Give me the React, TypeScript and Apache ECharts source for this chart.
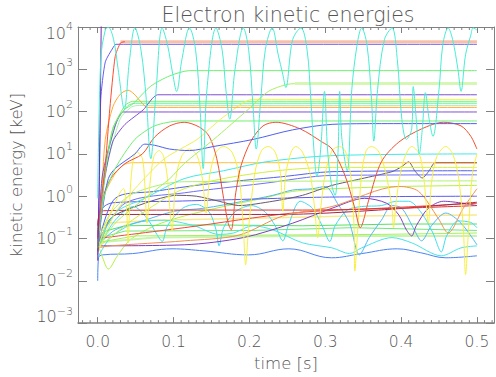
import { useEffect, useRef } from "react";
import * as echarts from "echarts";

// ---------- tick values ----------
const xMajorTicks = [0, 0.1, 0.2, 0.3, 0.4, 0.5];
const xMinorTicks = [
  -0.02, -0.01, 0.01, 0.02, 0.03, 0.04, 0.05, 0.06, 0.07, 0.08, 0.09,
  0.11, 0.12, 0.13, 0.14, 0.15, 0.16, 0.17, 0.18, 0.19,
  0.21, 0.22, 0.23, 0.24, 0.25, 0.26, 0.27, 0.28, 0.29,
  0.31, 0.32, 0.33, 0.34, 0.35, 0.36, 0.37, 0.38, 0.39,
  0.41, 0.42, 0.43, 0.44, 0.45, 0.46, 0.47, 0.48, 0.49, 0.51, 0.52,
];

// ---------- series data: [time s, energy keV] ----------
const cyanBand = [[0,0.89],[0.004,1700],[0.010,8500],[0.014,9800],[0.021,5000],[0.027,980],[0.035,115],[0.042,1700],[0.049,9500],[0.057,2900],[0.064,195],[0.070,7.7],[0.077,330],[0.085,9500],[0.092,3800],[0.099,760],[0.104,300],[0.111,1700],[0.121,9500],[0.129,2900],[0.135,115],[0.139,4.5],[0.144,330],[0.156,9500],[0.164,2900],[0.169,330],[0.174,66],[0.181,980],[0.192,9500],[0.199,2900],[0.205,115],[0.209,13],[0.215,195],[0.221,2900],[0.230,9500],[0.238,2200],[0.244,760],[0.248,370],[0.257,5000],[0.268,9500],[0.276,2900],[0.281,195],[0.285,13],[0.289,2.9],[0.294,13],[0.299,300],[0.303,13],[0.308,2.0],[0.313,1.05],[0.317,13],[0.319,300],[0.322,22],[0.329,4.0],[0.335,330],[0.342,3800],[0.348,9500],[0.355,3800],[0.361,195],[0.364,20],[0.369,330],[0.378,5000],[0.388,9500],[0.395,1700],[0.401,66],[0.407,22],[0.414,39],[0.416,390],[0.420,66],[0.424,10],[0.428,39],[0.432,280],[0.437,66],[0.442,26],[0.450,330],[0.455,3800],[0.462,9500],[0.468,5000],[0.475,980],[0.479,300],[0.485,2200],[0.492,6500],[0.495,9500],[0.5,8500]];
const purpleSpike = [[0,0.03],[0.003,30],[0.005,50000],[0.5,50000]];
const redRise = [[0,0.1],[0.005,0.9],[0.010,5.3],[0.016,120],[0.023,2000],[0.030,4200],[0.036,4500]];
const salmonFlat = [[0.03,4500],[0.5,4500]];
const violetTop = [[0,0.1],[0.002,1],[0.004,195],[0.010,1500],[0.020,3200],[0.024,3900],[0.5,3900]];
const green930 = [[0,0.06],[0.008,2],[0.02,40],[0.035,110],[0.046,150],[0.07,400],[0.095,700],[0.121,930],[0.5,930]];
const greenDiag = [[0,0.06],[0.023,0.23],[0.062,0.89],[0.095,2.6],[0.114,5.9],[0.153,22],[0.199,115],[0.225,300],[0.25,440],[0.27,460],[0.5,460]];
const paleGreenFlat = [[0.26,460],[0.5,460]];
const purple250 = [[0,0.04],[0.008,2],[0.02,20],[0.036,50],[0.06,110],[0.079,250],[0.5,250]];
const purple98 = [[0,0.05],[0.006,3],[0.023,46],[0.034,98],[0.5,98]];
const orangePeak = [[0,0.06],[0.006,2],[0.01,22],[0.02,130],[0.03,260],[0.04,320],[0.048,260],[0.057,170],[0.066,126],[0.5,126]];
const yellowDiag = [[0,0.046],[0.023,0.4],[0.049,1.5],[0.088,7.7],[0.131,22],[0.166,75],[0.205,195],[0.5,195]];
const green175 = [[0,0.05],[0.008,3],[0.02,40],[0.036,140],[0.046,175],[0.5,175]];
const green158 = [[0,0.07],[0.01,5],[0.025,60],[0.04,140],[0.05,158],[0.5,158]];
const mint140 = [[0,0.08],[0.012,5],[0.03,70],[0.045,130],[0.055,140],[0.5,140]];
const green60 = [[0,0.05],[0.008,0.9],[0.023,4.5],[0.049,22],[0.075,46],[0.108,60],[0.5,60]];
const blue52 = [[0,0.06],[0.0065,0.52],[0.014,2.6],[0.023,4.5],[0.049,10],[0.062,17],[0.075,16],[0.095,13],[0.121,12],[0.153,15],[0.205,22],[0.257,37],[0.309,50],[0.374,52],[0.5,52]];
const redArcs = [[0,0.105],[0.005,0.68],[0.017,2.6],[0.036,5.9],[0.059,10],[0.075,25],[0.095,46],[0.114,56],[0.134,43],[0.147,26],[0.157,7.7],[0.166,0.89],[0.172,0.23],[0.176,0.16],[0.182,1.2],[0.189,5.3],[0.202,20],[0.218,46],[0.235,56],[0.267,39],[0.296,19],[0.309,13],[0.326,3.1],[0.339,0.52],[0.346,0.18],[0.358,0.89],[0.374,6.5],[0.397,19],[0.427,39],[0.456,56],[0.479,46],[0.492,26],[0.5,13]];
const yellowArcs = [[0,0.06],[0.017,0.4],[0.034,1.5],[0.038,0.52],[0.040,0.079],[0.043,1.5],[0.047,7.7],[0.052,11],[0.059,7.7],[0.062,2.0],[0.065,0.23],[0.069,2.0],[0.074,8.6],[0.081,12],[0.087,8.6],[0.092,2.6],[0.098,0.15],[0.103,2.6],[0.111,9.1],[0.121,13],[0.131,9.1],[0.138,2.6],[0.143,0.4],[0.148,3.4],[0.156,11],[0.166,15],[0.177,11],[0.186,3.4],[0.192,0.18],[0.195,0.024],[0.199,0.18],[0.207,3.4],[0.216,12],[0.225,15],[0.234,11],[0.241,3.4],[0.244,0.44],[0.248,3.4],[0.255,11],[0.261,15],[0.270,11],[0.280,3.4],[0.286,0.52],[0.290,0.105],[0.294,0.52],[0.300,3.4],[0.309,12],[0.319,15],[0.327,11],[0.334,2.6],[0.338,0.18],[0.339,0.017],[0.343,0.18],[0.348,3.4],[0.354,12],[0.361,15],[0.371,11],[0.380,3.4],[0.388,0.52],[0.390,0.18],[0.394,0.89],[0.402,5.9],[0.414,15],[0.424,10],[0.430,2.6],[0.436,0.23],[0.440,2.0],[0.447,8.6],[0.459,15],[0.468,10],[0.476,2.6],[0.482,0.18],[0.485,0.014],[0.489,0.18],[0.494,3.4],[0.5,10]];
const blueOne = [[0,0.08],[0.006,0.5],[0.02,0.7],[0.1,0.76],[0.2,0.85],[0.3,0.95],[0.5,1.0]];
const orangeLow = [[0,0.06],[0.017,0.067],[0.114,0.088],[0.186,0.12],[0.244,0.34],[0.309,0.57],[0.397,1.7],[0.423,1.3],[0.449,0.3],[0.462,0.135],[0.482,0.52],[0.5,1.5]];
const redHalf = [[0,0.1],[0.004,0.45],[0.15,0.47],[0.27,0.47],[0.4,0.52],[0.5,0.6]];
const darkRed = [[0,0.2],[0.004,0.37],[0.14,0.37],[0.24,0.37],[0.37,0.47],[0.5,0.72]];
const redRising = [[0,0.1],[0.114,0.18],[0.257,0.4],[0.374,0.52],[0.5,0.68]];
const purpleLow = [[0,0.067],[0.114,0.071],[0.192,0.105],[0.257,0.23],[0.309,0.52],[0.352,0.89],[0.381,0.68],[0.397,0.36],[0.407,0.16],[0.414,0.115],[0.42,0.2],[0.436,0.52],[0.456,0.76],[0.5,0.6]];
const grayLine = [[0,0.06],[0.017,0.3],[0.062,0.68],[0.104,1.05],[0.13,1.0],[0.16,0.76],[0.186,0.6],[0.231,0.76],[0.27,1.05],[0.309,1.8],[0.348,2.6],[0.388,3.8],[0.4,4.9],[0.41,6.5],[0.418,4.0],[0.428,2.7],[0.437,4.0],[0.445,6.2],[0.5,6.2]];
const brownFlat = [[0.445,6.2],[0.5,6.2]];
const orangeFlat = [[0,0.06],[0.008,1],[0.023,3.4],[0.034,5.5],[0.045,6.2],[0.5,6.2]];
const cyanRising = [[0,0.06],[0.023,0.4],[0.062,0.89],[0.114,2.6],[0.166,4.0],[0.222,6.5],[0.309,9.1],[0.5,10]];
const yellowGreen = [[0,0.06],[0.049,0.3],[0.114,1.5],[0.205,3.4],[0.309,4.8],[0.5,4.8]];
const lightGreen23 = [[0,0.08],[0.017,0.4],[0.049,1.2],[0.114,2.2],[0.5,2.3]];
const blue40 = [[0,0.06],[0.023,0.89],[0.075,1.3],[0.14,1.9],[0.244,2.9],[0.309,3.8],[0.5,4.0]];
const blue32 = [[0,0.08],[0.036,0.68],[0.114,1.2],[0.218,2.0],[0.309,3.1],[0.5,3.2]];
const cyanWave1 = [[0,0.06],[0.023,0.27],[0.047,0.57],[0.065,0.3],[0.078,0.125],[0.085,0.085],[0.092,0.2],[0.112,0.52],[0.13,0.64],[0.147,0.42],[0.156,0.16],[0.16,0.067],[0.166,0.18],[0.182,0.44],[0.203,0.6],[0.221,0.42],[0.234,0.2],[0.244,0.088],[0.252,0.22],[0.267,0.76],[0.283,0.52],[0.296,0.2],[0.306,0.085],[0.313,0.2],[0.329,0.47],[0.348,0.57],[0.374,0.6],[0.394,0.76],[0.41,0.76],[0.427,0.4],[0.442,0.135],[0.453,0.048],[0.46,0.115],[0.475,0.26],[0.492,0.24],[0.5,0.18]];
const skyWave = [[0,0.067],[0.023,0.16],[0.062,0.27],[0.101,0.44],[0.14,0.52],[0.192,0.76],[0.231,1.05],[0.257,1.4],[0.283,1.5],[0.3,1.7],[0.316,0.68],[0.332,0.23],[0.345,0.041],[0.358,0.105],[0.374,0.27],[0.388,0.6],[0.401,0.52],[0.416,0.18],[0.427,0.088],[0.44,0.2],[0.459,0.4],[0.479,0.23],[0.5,0.071]];
const cyanWave3 = [[0,0.035],[0.017,0.105],[0.049,0.23],[0.088,0.27],[0.127,0.2],[0.16,0.125],[0.179,0.135],[0.205,0.2],[0.231,0.16],[0.27,0.079],[0.309,0.06],[0.332,0.044],[0.348,0.06],[0.388,0.105],[0.414,0.079],[0.453,0.039],[0.479,0.06],[0.5,0.067]];
const green021 = [[0,0.06],[0.01,0.15],[0.036,0.2],[0.14,0.21],[0.27,0.2],[0.4,0.22],[0.5,0.22]];
const green016 = [[0,0.1],[0.036,0.15],[0.205,0.155],[0.335,0.18],[0.5,0.155]];
const lime012 = [[0,0.08],[0.049,0.115],[0.205,0.12],[0.374,0.125],[0.5,0.135]];
const pale011 = [[0,0.08],[0.075,0.105],[0.27,0.115],[0.5,0.115]];
const blueBottom = [[0,0.01],[0.001,0.035],[0.0065,0.041],[0.046,0.044],[0.098,0.057],[0.14,0.051],[0.199,0.041],[0.252,0.057],[0.308,0.035],[0.348,0.044],[0.395,0.057],[0.426,0.046],[0.459,0.035],[0.5,0.039]];
const limeLow = [[0,0.079],[0.0065,0.035],[0.014,0.019],[0.026,0.039],[0.043,0.094],[0.075,0.2],[0.114,0.34],[0.166,0.57],[0.218,0.89],[0.257,1.3],[0.309,1.5],[0.401,1.7],[0.5,1.8]];
const paleYellow = [[0,0.135],[0.01,0.23],[0.075,0.27],[0.205,0.3],[0.335,0.34],[0.5,0.36]];

type Def = { data: number[][]; color: string; width?: number; smooth?: number | boolean };
const lineDefs: Def[] = [
  { data: blueBottom, color: "#4a84f4", smooth: 0.4 },
  { data: limeLow, color: "#b4f040", smooth: 0.3 },
  { data: pale011, color: "#c8f4b0", width: 2 },
  { data: lime012, color: "#a8f060" },
  { data: green016, color: "#70e878" },
  { data: green021, color: "#58e060" },
  { data: paleYellow, color: "#f8e890", width: 1.5 },
  { data: cyanWave3, color: "#48e4e8", smooth: 0.3 },
  { data: skyWave, color: "#52b8f4", smooth: 0.3 },
  { data: cyanWave1, color: "#40dcf0", smooth: 0.3 },
  { data: purpleLow, color: "#8040c0", smooth: 0.3 },
  { data: redRising, color: "#f04838", smooth: 0.3 },
  { data: darkRed, color: "#a02848", smooth: 0.3 },
  { data: redHalf, color: "#e03030", smooth: 0.3 },
  { data: orangeLow, color: "#f09050", smooth: 0.3 },
  { data: blueOne, color: "#5c5cf0", smooth: 0.3 },
  { data: grayLine, color: "#685868", smooth: 0.25 },
  { data: blue32, color: "#7070f8", smooth: 0.3 },
  { data: blue40, color: "#5060f0", smooth: 0.3 },
  { data: lightGreen23, color: "#b0f070", smooth: 0.3 },
  { data: yellowGreen, color: "#d0f040", smooth: 0.3 },
  { data: orangeFlat, color: "#ffc040", smooth: 0.2 },
  { data: brownFlat, color: "#c06030" },
  { data: cyanRising, color: "#40e8e8", smooth: 0.3 },
  { data: yellowArcs, color: "#f8f040", smooth: 0.3 },
  { data: redArcs, color: "#f05030", smooth: 0.3 },
  { data: blue52, color: "#5060f0", smooth: 0.3 },
  { data: green60, color: "#70f070", smooth: 0.25 },
  { data: mint140, color: "#a8f0b8", smooth: 0.2 },
  { data: green158, color: "#60f090", smooth: 0.2 },
  { data: green175, color: "#80f070", smooth: 0.2 },
  { data: yellowDiag, color: "#f0f050", smooth: 0.25 },
  { data: orangePeak, color: "#ffa830", smooth: 0.3 },
  { data: purple98, color: "#8050d0", smooth: 0.2 },
  { data: purple250, color: "#8050d0", smooth: 0.2 },
  { data: greenDiag, color: "#a8f060", smooth: 0.25 },
  { data: paleGreenFlat, color: "#d4f8b4", width: 3 },
  { data: green930, color: "#70f070", smooth: 0.25 },
  { data: violetTop, color: "#6a5cf0", smooth: 0.2 },
  { data: salmonFlat, color: "#f8c0a8", width: 3 },
  { data: redRise, color: "#ff4a30", smooth: 0.2 },
  { data: purpleSpike, color: "#7030b0" },
  { data: cyanBand, color: "#48ecd4", smooth: 0.35 },
];

const TXT = "#555555";
const AX = "#808080";
const FONT = "'DejaVu Sans', sans-serif";
const FW = 200;

export default function App() {
  const ref = useRef<HTMLDivElement>(null);
  useEffect(() => {
    const chart = echarts.init(ref.current!, null, { renderer: "svg" });
    const xMin = -0.026;
    const xMax = 0.5225;
    const txt = { fontFamily: FONT, fontWeight: FW, color: TXT };
    const option: any = {
      animation: false,
      backgroundColor: "#ffffff",
      title: {
        text: "Electron kinetic energies",
        left: 283,
        top: -1,
        textAlign: "center",
        textStyle: { fontSize: 20.5, ...txt },
      },
      grid: { left: 72, right: 2, top: 27, bottom: 51, containLabel: false },
      xAxis: [
        {
          type: "value", min: xMin, max: xMax, position: "bottom",
          name: "time [s]", nameLocation: "middle", nameGap: 30,
          nameTextStyle: { fontSize: 16.5, ...txt },
          axisLine: { show: true, onZero: false, lineStyle: { color: AX, width: 1.5 } },
          axisTick: { show: true, inside: true, length: 6, customValues: xMajorTicks, lineStyle: { color: AX } },
          axisLabel: {
            show: true, customValues: xMajorTicks, margin: 11, fontSize: 15.5, ...txt,
            formatter: (v: number) => v.toFixed(1),
          },
          splitLine: { show: false },
        },
        {
          type: "value", min: xMin, max: xMax, position: "top",
          axisLine: { show: true, onZero: false, lineStyle: { color: AX, width: 1 } },
          axisTick: { show: true, inside: true, length: 6, customValues: xMajorTicks, lineStyle: { color: AX } },
          axisLabel: { show: false },
          splitLine: { show: false },
        },
      ],
      yAxis: [
        {
          type: "log", logBase: 10, min: 0.001, max: 10000, position: "left",
          name: "kinetic energy [keV]", nameLocation: "middle", nameGap: 53, nameRotate: 90,
          nameTextStyle: { fontSize: 16.5, ...txt },
          axisLine: { show: true, onZero: false, lineStyle: { color: AX, width: 1 } },
          axisTick: { show: true, inside: true, length: 9, lineStyle: { color: AX } },
          axisLabel: {
            show: true, margin: 5, color: TXT,
            formatter: (v: number) => {
              const e = Math.round(Math.log10(v));
              const s = e < 0 ? "\u2212" + -e : String(e);
              if (e >= 4) return `{bt|10}{st|${s}}`;
              if (e <= -3) return `{bb|10}{sb|${s}}`;
              return `{b|10}{s|${s}}`;
            },
            rich: {
              b: { fontSize: 16, ...txt, lineHeight: 27 },
              s: { fontSize: 11, ...txt, lineHeight: 11, padding: [0, 0, 14, 0] },
              bt: { fontSize: 16, ...txt, lineHeight: 27, padding: [12, 0, 0, 0] },
              st: { fontSize: 11, ...txt, lineHeight: 11, padding: [0, 0, 1, 0] },
              bb: { fontSize: 16, ...txt, lineHeight: 27, padding: [0, 0, 14, 0] },
              sb: { fontSize: 11, ...txt, lineHeight: 11, padding: [0, 0, 24, 0] },
            },
          },
          splitLine: { show: false },
          minorTick: { show: false },
        },
        {
          type: "log", logBase: 10, min: 0.001, max: 10000, position: "right",
          axisLine: { show: true, onZero: false, lineStyle: { color: AX, width: 1 } },
          axisTick: { show: true, inside: true, length: 8, lineStyle: { color: AX } },
          axisLabel: { show: false },
          splitLine: { show: false },
        },
      ],
      series: [
        ...lineDefs.map((d) => ({
          type: "line",
          xAxisIndex: 0,
          yAxisIndex: 0,
          data: d.data,
          showSymbol: false,
          symbol: "none",
          smooth: d.smooth ?? false,
          clip: true,
          silent: true,
          lineStyle: { color: d.color, width: d.width ?? 1 },
        })),
        {
          type: "custom",
          xAxisIndex: 0,
          yAxisIndex: 0,
          silent: true,
          clip: false,
          data: xMinorTicks.map((v) => [v, 1]),
          renderItem: (params: any, api: any) => {
            const p = api.coord([api.value(0), 1]);
            const cs = params.coordSys;
            const bottom = cs.y + cs.height;
            const top = cs.y;
            return {
              type: "group",
              children: [
                { type: "line", shape: { x1: p[0], y1: bottom, x2: p[0], y2: bottom - 3 }, style: { stroke: AX, lineWidth: 1 } },
                { type: "line", shape: { x1: p[0], y1: top, x2: p[0], y2: top + 3 }, style: { stroke: AX, lineWidth: 1 } },
              ],
            };
          },
        },
      ],
    };
    chart.setOption(option);
    return () => chart.dispose();
  }, []);
  return <div ref={ref} style={{ position: "fixed", left: 0, top: 0, width: 496, height: 377 }} />;
}
